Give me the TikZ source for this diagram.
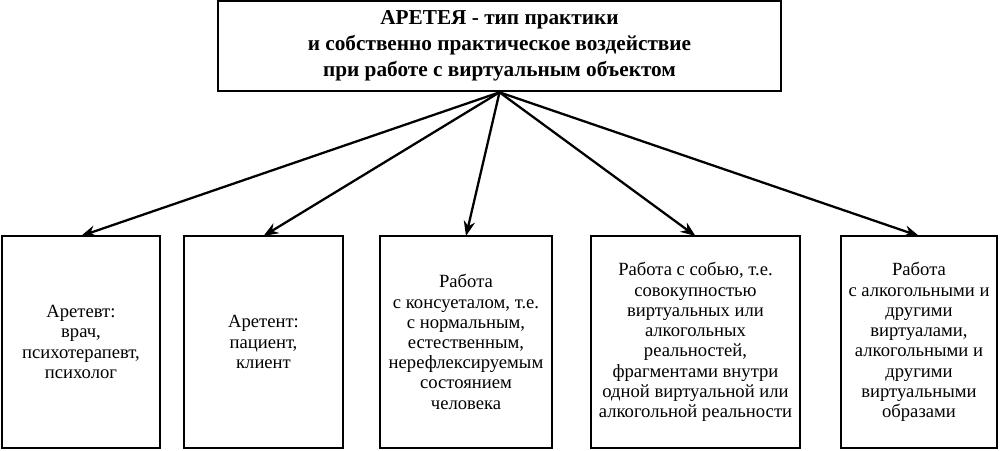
\documentclass[tikz,border=0pt]{standalone}
\usepackage{fontspec}
\setmainfont{Liberation Serif}
\usepackage{tikz}
\usetikzlibrary{shapes,arrows.meta,positioning}

\begin{document}
\begin{tikzpicture}[node distance=0.5cm, auto,
    box/.style={draw, rectangle, line width=1.1pt, align=center, minimum height=4.24cm,
        font=\fontsize{10.6}{11.5}\selectfont, inner sep=0pt, outer sep=0pt},
    link/.style={-{Stealth[length=8.5pt, width=6.5pt]}, line width=1.3pt}]
    \useasboundingbox (0,0) rectangle (20,9);
    \node (head) [draw, rectangle, line width=1.5pt, align=center, minimum width=11.26cm, minimum height=1.8cm,
        font=\fontsize{12.1}{14.8}\selectfont\bfseries] at (9.99,8.08)
        {АРЕТЕЯ - тип практики\\ и собственно практическое воздействие\\ при работе с виртуальным объектом};
    \node (doctor) [box, minimum width=3.16cm] at (1.62,2.16) {Аретевт:\\ врач,\\ психотерапевт,\\ психолог};
    \node (patient) [box, minimum width=3.18cm, right=0.48cm of doctor] {Аретент:\\ пациент,\\ клиент};
    \node (consuetal) [box, minimum width=3.44cm, right=0.74cm of patient]
        {Работа\\ с консуеталом, т.е.\\ с нормальным,\\ естественным,\\ нерефлексируемым\\ состоянием\\ человека};
    \node (self) [box, minimum width=4.18cm, right=0.78cm of consuetal]
        {Работа с собью, т.е.\\ совокупностью\\ виртуальных или\\ алкогольных\\ реальностей,\\ фрагментами внутри\\ одной виртуальной или\\ алкогольной реальности};
    \node (virtuals) [box, minimum width=3.12cm, right=0.82cm of self]
        {Работа\\ с алкогольными и\\ другими\\ виртуалами,\\ алкогольными и\\ другими\\ виртуальными\\ образами};
    \draw[link] (head.south) -- (doctor.north);
    \draw[link] (head.south) -- (patient.north);
    \draw[link] (head.south) -- (consuetal.north);
    \draw[link] (head.south) -- (self.north);
    \draw[link] (head.south) -- (virtuals.north);
\end{tikzpicture}
\end{document}
